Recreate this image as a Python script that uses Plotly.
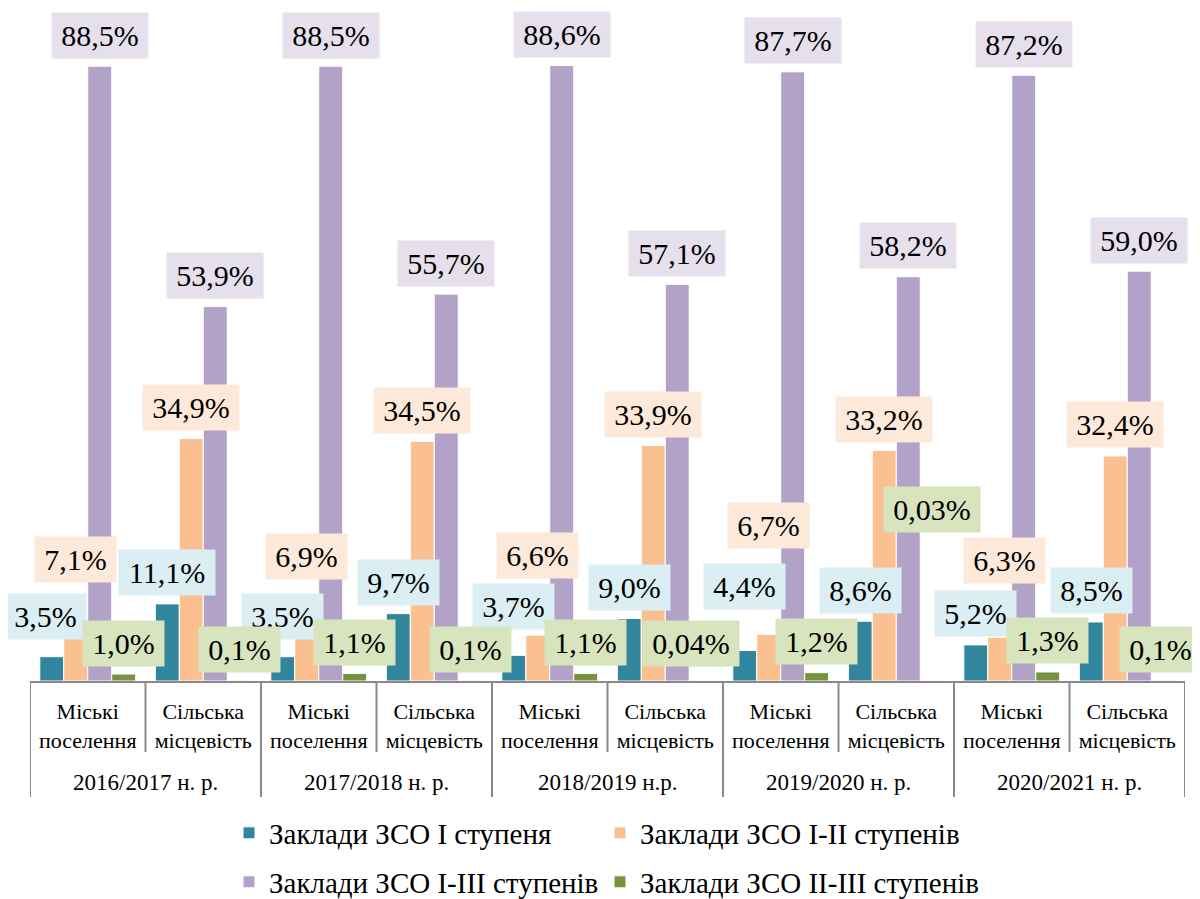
import plotly.graph_objects as go

# ── Data ──────────────────────────────────────────────────────────────────────
YEARS = ["2016/2017 н. р.", "2017/2018 н. р.", "2018/2019 н.р.",
         "2019/2020 н. р.", "2020/2021 н. р."]
SETTLEMENTS = ["Міські<br>поселення", "Сільська<br>місцевість"]

SERIES_NAMES = [
    "Заклади ЗСО І ступеня",
    "Заклади ЗСО І-ІІ ступенів",
    "Заклади ЗСО І-ІІІ ступенів",
    "Заклади ЗСО ІІ-ІІІ ступенів",
]
STAGE_1 = [3.5, 11.1, 3.5, 9.7, 3.7, 9.0, 4.4, 8.6, 5.2, 8.5]
STAGE_1_2 = [7.1, 34.9, 6.9, 34.5, 6.6, 33.9, 6.7, 33.2, 6.3, 32.4]
STAGE_1_3 = [88.5, 53.9, 88.5, 55.7, 88.6, 57.1, 87.7, 58.2, 87.2, 59.0]
STAGE_2_3 = [1.0, 0.1, 1.1, 0.1, 1.1, 0.04, 1.2, 0.03, 1.3, 0.1]

# ── Style ─────────────────────────────────────────────────────────────────────
_FONT = "Liberation Serif"
_BAR_COLORS = ["#31859C", "#FAC090", "#B3A2C7", "#77933C"]
_LABEL_BG = ["#DAEEF3", "#FDE9D9", "#E5E0EC", "#D7E4BD"]
_AXIS = "#898989"
_BARGAP = 0.17
_LABEL_SIZE = 30

# label lift above bar top (px) per series, per category (Excel moved some)
_LIFT = [
    [40, 31, 40, 31, 49, 31, 64, 31, 31, 31],
    [72, 31, 77, 31, 80, 31, 109, 31, 77, 31],
    [31, 31, 31, 31, 31, 31, 31, 31, 31, 31],
    [31, 31, 31, 31, 31, 37, 31, 171, 31, 31],
]
_XSHIFT = [
    [-6, 0, 0, 0, 0, 0, 0, 0, 0, 0],
    [0, 0, 0, 0, 0, 0, 0, 0, 5, 0],
    [0, 0, 0, 0, 0, 0, 0, 0, 0, 0],
    [0, 0, 0, 0, 0, -10, 0, 0, 0, -3],
]

# paper fractions below the axis (plot height 671 px)
_PLOT_H = 671.0

# legend grid: 2 columns x 2 rows (paper x, px below axis)
_LEGEND_X = [0.1723, 0.4935]
_LEGEND_ROWS = [152, 201]


def _below(px: float) -> float:
    return -px / _PLOT_H


def _fmt(v: float) -> str:
    s = f"{v:.2f}" if v < 0.1 else f"{v:.1f}"
    return s.replace(".", ",") + "%"


def _box_width(text: str) -> float:
    # serif glyph widths: digits 0.5em, comma 0.25em, percent 0.833em
    digits = sum(c.isdigit() for c in text)
    em = 0.5 * digits + 0.25 + 0.833
    return em * _LABEL_SIZE + 6.5


categories = [f"{y}|{s}" for y in YEARS for s in SETTLEMENTS]
x_pos = list(range(len(categories)))
tick_text = [s for _ in YEARS for s in SETTLEMENTS]
series = [STAGE_1, STAGE_1_2, STAGE_1_3, STAGE_2_3]

fig = go.Figure()
legends = {}
for i, (name, vals) in enumerate(zip(SERIES_NAMES, series)):
    key = "legend" if i == 0 else f"legend{i + 1}"
    fig.add_trace(go.Bar(
        x=x_pos,
        y=vals,
        name=name,
        showlegend=True,
        marker={"color": _BAR_COLORS[i], "line": {"color": "white", "width": 1}},
        legend=key,
        hovertemplate="%{y}<extra></extra>",
    ))
    legends[key] = dict(
        x=_LEGEND_X[i % 2], y=_below(_LEGEND_ROWS[i // 2]),
        orientation="h", xanchor="left", yanchor="middle",
        font={"family": _FONT, "size": 29, "color": "black"},
        bgcolor="rgba(0,0,0,0)",
    )

# data labels
bw = (1 - _BARGAP) / len(series)
annotations = []
for i, vals in enumerate(series):
    off = -(1 - _BARGAP) / 2 + (i + 0.5) * bw
    for k, v in enumerate(vals):
        txt = _fmt(v)
        annotations.append(dict(
            x=k + off, y=v, xref="x", yref="y",
            text=txt, width=_box_width(txt),
            showarrow=False, yanchor="middle", xanchor="center",
            yshift=_LIFT[i][k], xshift=_XSHIFT[i][k],
            bgcolor=_LABEL_BG[i], borderpad=6,
            font={"family": _FONT, "size": _LABEL_SIZE, "color": "black"},
        ))

# year labels
for j, year in enumerate(YEARS):
    annotations.append(dict(
        x=2 * j + 0.5, y=_below(101), xref="x", yref="paper",
        text=year, showarrow=False, yanchor="middle",
        font={"family": _FONT, "size": 23, "color": "black"},
    ))

# category dividers
shapes = []
for k in range(len(categories) + 1):
    depth = 116 if k % 2 == 0 else 71
    shapes.append(dict(
        type="line", xref="x", yref="paper",
        x0=k - 0.5, x1=k - 0.5, y0=0, y1=_below(depth),
        line={"color": _AXIS, "width": 2},
    ))

fig.update_layout(
    width=1192, height=891,
    paper_bgcolor="white", plot_bgcolor="white",
    margin={"l": 22, "r": 15, "t": 2, "b": 218, "autoexpand": False},
    barmode="group", bargap=_BARGAP, bargroupgap=0,
    font={"family": _FONT, "color": "black"},
    showlegend=True,
    xaxis=dict(
        range=[-0.5, len(categories) - 0.5],
        tickvals=x_pos, ticktext=tick_text,
        tickfont={"family": _FONT, "size": 22, "color": "black"},
        ticklabelstandoff=10,
        showline=True, linecolor=_AXIS, linewidth=2,
        ticks="", showgrid=False, zeroline=False, fixedrange=True,
    ),
    yaxis=dict(range=[0, 96.6], visible=False, fixedrange=True),
    annotations=annotations,
    shapes=shapes,
    **legends,
)

fig.write_html("out.html")
